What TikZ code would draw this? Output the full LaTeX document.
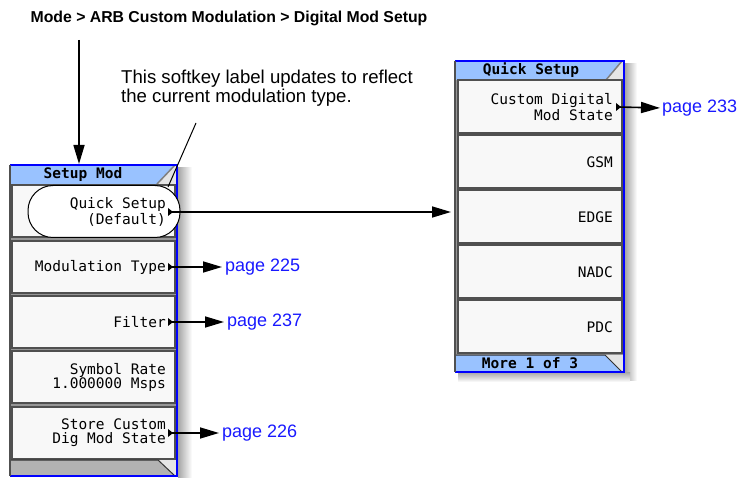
\documentclass[tikz,border=0pt]{standalone}
\usepackage{fontspec}
\setmainfont{Liberation Sans}
\newfontfamily\keyfont{DejaVu Sans Mono}
\usetikzlibrary{arrows.meta,positioning,calc}
\definecolor{tabblue}{RGB}{153,194,255}
\definecolor{edgeblue}{RGB}{0,0,255}
\definecolor{linkblue}{RGB}{25,25,255}
\definecolor{keyfill}{RGB}{248,248,248}
\definecolor{keyedge}{RGB}{80,80,80}
\definecolor{panelgray}{RGB}{150,150,150}
\tikzset{
  softkey/.style={draw=keyedge, fill=keyfill, line width=1.2pt},
  keytext/.style={anchor=east, align=right, inner sep=0pt, font=\keyfont\fontsize{14.5}{14}\selectfont},
  tabtext/.style={inner sep=0pt, font=\keyfont\bfseries\fontsize{14.5}{14}\selectfont},
  pageref/.style={anchor=west, inner sep=0pt, text=linkblue, font=\fontsize{18}{20}\selectfont},
  leader/.style={line width=1.6pt, -{Triangle[length=19pt,width=11pt]}},
}

\begin{document}
\begin{tikzpicture}[x=1pt, y=-1pt]
  \useasboundingbox (0,0) rectangle (739,478);
  % menu path and note
  \node[inner sep=0pt, font=\bfseries\fontsize{15.8}{17}\selectfont] (menu) at (229,18)
    {Mode > ARB Custom Modulation > Digital Mod Setup};
  \node[anchor=north west, align=left, inner sep=0pt, font=\fontsize{18.6}{19}\selectfont] (note) at (121,70)
    {This softkey label updates to reflect\\the current modulation type.};
  % drop shadows
  \shade[left color=gray!70, right color=white] (178,168) rectangle (192,478);
  \shade[left color=gray!70, right color=white] (625,64) rectangle (637,380);
  \shade[top color=gray!70, bottom color=white] (458,372) rectangle (630,382);

  % left panel: Setup Mod
  \fill[panelgray] (10,165) rectangle (177,476);
  \fill[gray!20] (10,165) rectangle (177,184);
  \fill[tabblue] (10,165) -- (175,165) -- (157,184) -- (10,184) -- cycle;
  \draw[gray, line width=1.5pt] (157,184) -- (175,165);
  \node[tabtext] (ltab) at (83,175) {Setup Mod};
  \foreach \t in {185,241,296,351,407} \draw[softkey] (12,\t) rectangle (175,\t+52);
  \fill[gray!20] (10,460) rectangle (177,476);
  \fill[gray!60] (10,460) -- (158,460) -- (175,476) -- (10,476) -- cycle;
  \draw[gray!40!black, line width=1pt] (10,460) -- (158,460) -- (175,476);
  \draw[edgeblue, line width=2pt] (10,165) -- (177,165) -- (177,476) -- (10,476);
  \draw[keyedge, line width=1.5pt] (10,165) -- (10,476);
  % highlighted softkey
  \node[draw, line width=1pt, fill=white, rounded corners=25, minimum width=152, minimum height=52, inner sep=0pt] (ring) at (104,211.5) {};
  \node[keytext] (qs) at (166,212) {Quick Setup\\(Default)};
  \node[keytext] (modtype) at (166,267) {Modulation Type};
  \node[keytext] (filter) at (166,322) {Filter};
  \node[keytext] (symrate) at (166,377) {Symbol Rate\\1.000000 Msps};
  \node[keytext] (store) at (166,433) {Store Custom\\Dig Mod State};

  % right panel: Quick Setup
  \fill[panelgray] (455,61) rectangle (624,372);
  \fill[gray!20] (455,61) rectangle (624,80);
  \fill[tabblue] (455,61) -- (622,61) -- (606,80) -- (455,80) -- cycle;
  \draw[gray, line width=1.5pt] (606,80) -- (622,61);
  \node[tabtext] (rtab) at (531,70) {Quick Setup};
  \foreach \t in {80,135,190,245,300} \draw[softkey] (458,\t) rectangle (622,\t+53);
  \fill[gray!20] (455,355) rectangle (624,372);
  \fill[tabblue] (455,355) -- (605,355) -- (622,372) -- (455,372) -- cycle;
  \draw[gray!40!black, line width=1pt] (455,355) -- (605,355) -- (622,372);
  \node[tabtext] (rfoot) at (530,363) {More 1 of 3};
  \draw[edgeblue, line width=2pt] (455,61) -- (624,61) -- (624,372) -- (455,372);
  \draw[keyedge, line width=1.5pt] (455,61) -- (455,372);
  \node[keytext] (cdm) at (613,107) {Custom Digital\\Mod State};
  \node[keytext] (gsm) at (613,162) {GSM};
  \node[keytext] (edge) at (613,217) {EDGE};
  \node[keytext] (nadc) at (613,272) {NADC};
  \node[keytext] (pdc) at (613,327) {PDC};

  % submenu marks
  \foreach \x/\y/\n in {168/212/mq,168/267/mm,168/322/mf,168/433/ms,616/107/mc} {
    \fill (\x,\y-4) -- (\x+5,\y) -- (\x,\y+4) -- cycle;
    \coordinate (\n) at (\x+2,\y);
  }
  % page references
  \node[pageref] (p233) at (662,108) {page 233};
  \node[pageref] (p225) at (225,267) {page 225};
  \node[pageref] (p237) at (227,322) {page 237};
  \node[pageref] (p226) at (222,433) {page 226};

  % connectors
  \coordinate (drop) at (79,40);
  \coordinate (ltop) at (79,164);
  \coordinate (rin) at (451,212);
  \coordinate (ptr) at (168,187);
  \coordinate (ptrend) at (196,123);
  \draw[leader] (drop) -- (ltop);
  \draw[leader] (mq) -- (rin);
  \draw[leader, shorten >=3pt] (mm) -- (p225.west);
  \draw[leader, shorten >=3pt] (mf) -- (p237.west);
  \draw[leader, shorten >=3pt] (ms) -- (p226.west);
  \draw[leader, shorten >=2pt] (mc) -- (p233.west);
  \draw[line width=1pt] (ptr) -- (ptrend);
\end{tikzpicture}
\end{document}
